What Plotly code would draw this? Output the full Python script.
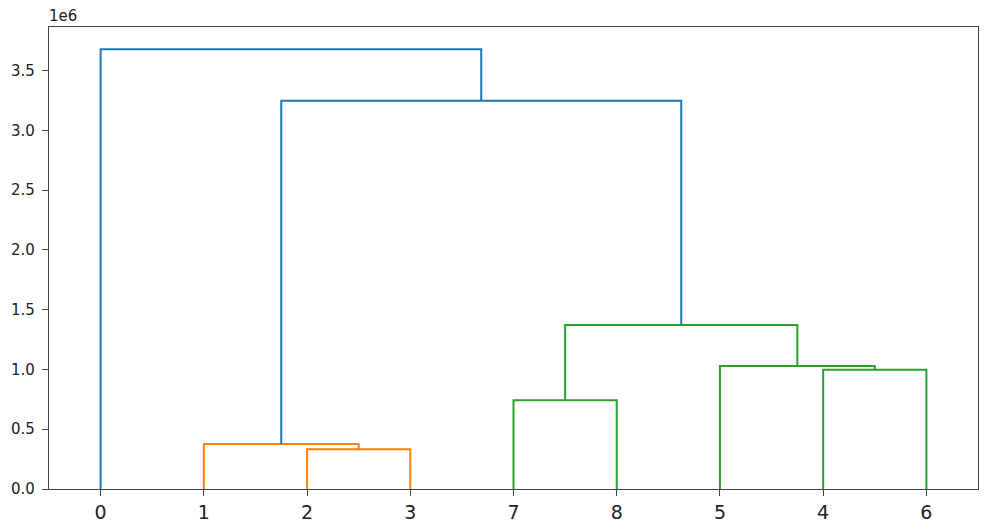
import plotly.graph_objects as go

# Linkage (scipy style): merge cluster a with cluster b at height (in units of 1e6)
leaf_labels = ["0", "1", "2", "3", "4", "5", "6", "7", "8"]
merge_a = [2, 1, 7, 4, 5, 11, 10, 0]
merge_b = [3, 9, 8, 6, 12, 13, 14, 15]
merge_h = [0.3325, 0.377, 0.743, 0.997, 1.028, 1.371, 3.247, 3.677]
y_ticks = [0.0, 0.5, 1.0, 1.5, 2.0, 2.5, 3.0, 3.5]

palette = ["#ff7f0e", "#2ca02c", "#d62728", "#9467bd"]
above_color = "#1f77b4"
n = len(leaf_labels)
threshold = 0.7 * max(merge_h)

children = {n + i: (merge_a[i], merge_b[i], merge_h[i]) for i in range(len(merge_h))}
root = n + len(merge_h) - 1

order = []
def traverse(c):
    if c < n:
        order.append(c)
    else:
        a, b, _ = children[c]
        traverse(a)
        traverse(b)
traverse(root)
pos = {leaf: 5 + 10 * i for i, leaf in enumerate(order)}
height = {leaf: 0.0 for leaf in range(n)}

def layout(c):
    if c < n:
        return pos[c], 0.0
    a, b, h = children[c]
    xa, ha = layout(a)
    xb, hb = layout(b)
    pos[c] = (xa + xb) / 2
    height[c] = h
    return pos[c], h
layout(root)

color_of = {}
ci = 0
def color_tree(c, col):
    color_of[c] = col
    if c >= n:
        a, b, _ = children[c]
        color_tree(a, col)
        color_tree(b, col)
def assign(c):
    global ci
    if c < n:
        return
    a, b, h = children[c]
    if h < threshold:
        color_tree(c, palette[ci % len(palette)])
        ci += 1
    else:
        color_of[c] = above_color
        assign(a)
        assign(b)
assign(root)

fig = go.Figure()
for c in sorted(children):
    a, b, h = children[c]
    xs = [pos[a], pos[a], pos[b], pos[b]]
    ys = [height[a], h, h, height[b]]
    fig.add_trace(go.Scatter(x=xs, y=ys, mode="lines",
                             line=dict(color=color_of[c], width=2),
                             hoverinfo="skip", showlegend=False, cliponaxis=False))

# page body has an 8px default margin, so the figure is sized to fit inside the window
fig.update_layout(
    width=979, height=523,
    margin=dict(l=41, r=9, t=19, b=42, autoexpand=False),
    plot_bgcolor="white", paper_bgcolor="white",
    font=dict(family="DejaVu Sans", color="#222222"),
    showlegend=False,
)
fig.update_xaxes(range=[0, 10 * n], tickvals=[5 + 10 * i for i in range(n)],
                 ticktext=[leaf_labels[l] for l in order], automargin=False,
                 showgrid=False, zeroline=False, showline=True, mirror=True,
                 linecolor="#444444", linewidth=1.2, ticks="outside", ticklen=6,
                 tickcolor="#444444", ticklabelstandoff=0,
                 tickfont=dict(size=19, color="#222222"))
fig.update_yaxes(range=[0, 3.864], tickvals=y_ticks,
                 ticktext=[f"{v:.1f}" for v in y_ticks], automargin=False,
                 showgrid=False, zeroline=False, showline=True, mirror=True,
                 linecolor="#444444", linewidth=1.2, ticks="outside", ticklen=6,
                 tickcolor="#444444", ticklabelstandoff=4,
                 tickfont=dict(size=15, color="#222222"))
fig.add_annotation(text="1e6", x=0, y=1, xref="paper", yref="paper",
                   xanchor="left", yanchor="bottom", showarrow=False,
                   font=dict(size=15, color="#222222"), yshift=0, xshift=-2)
fig.write_html("out.html")
